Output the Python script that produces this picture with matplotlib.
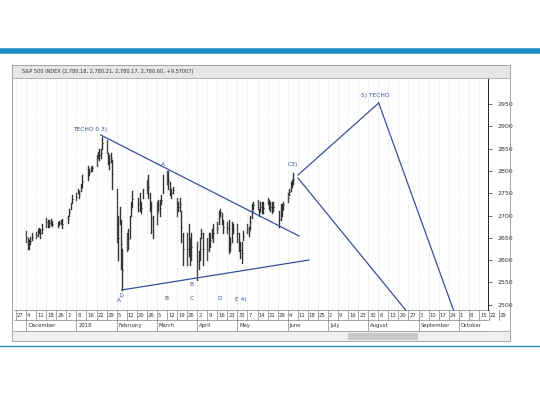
import matplotlib
matplotlib.use("Agg")
import matplotlib.pyplot as plt
import matplotlib.transforms as mtransforms
import pandas as pd

lows = [2640,2625,2625,2635,2645, 2650,2655,2660,2650,2660, 2675,2675,2675,2678,2676, 2675,2678,2680,2672,
        2683,2700,2715,2728, 2735,2750,2740,2755,2765, 2780,2790,2800,2800, 2810,2830,2825,2830,2850,
        2840,2815,2805,2820,2760, 2640,2600,2680,2580,2532, 2620,2625,2650,2700,2720, 2710,2710,2705,2740,
        2750,2740,2710,2660,2650, 2680,2710,2700,2725,2750, 2770,2760,2745,2740,2750, 2700,2710,2710,2640,2590,
        2590,2610,2590,2600, 2555,2580,2600,2650,2590, 2600,2620,2630,2650,2640, 2660,2680,2700,2680,2660,
        2660,2615,2620,2640,2660, 2640,2620,2605,2594,2645, 2660,2655,2670,2695,2715, 2715,2700,2710,2705,2705,
        2725,2715,2710,2705,2710, 2675,2690,2700,2715, 2730,2745,2755,2765,2770]
highs = [2665,2650,2645,2652,2660, 2662,2670,2672,2670,2680, 2695,2690,2690,2692,2688, 2685,2688,2690,2692,
         2700,2715,2728,2745, 2750,2760,2755,2770,2790, 2810,2805,2808,2812, 2835,2842,2848,2850,2875,
         2870,2840,2835,2840,2825, 2760,2700,2720,2690,2625, 2660,2670,2700,2730,2755, 2740,2750,2730,2760,
         2780,2790,2750,2730,2700, 2730,2735,2735,2745,2790, 2800,2800,2775,2760,2765, 2740,2730,2740,2710,2660,
         2660,2680,2650,2660, 2640,2620,2650,2670,2660, 2650,2660,2660,2670,2680, 2685,2710,2715,2705,2690,
         2685,2690,2650,2685,2680, 2680,2660,2640,2640,2665, 2680,2675,2700,2725,2730, 2735,2715,2730,2730,2730,
         2740,2735,2730,2730,2730, 2710,2725,2725,2730, 2750,2760,2775,2780,2795]
holidays = ["2017-12-25", "2018-01-01", "2018-01-15", "2018-02-19", "2018-03-30", "2018-05-28"]
week_labels = ["27","4","11","18","26","2","8","16","22","29","5","12","20","26","5","12","19","26","2","9","16","23","30",
               "7","14","21","29","4","11","18","25","2","9","16","23","30","6","13","20","27","3","10","17","24","1","8","15","22","29"]
months = ["December","2018","February","March","April","May","June","July","August","September","October"]
month_weeks = [1, 6, 10, 14, 18, 22, 27, 31, 35, 40, 44]

origin = pd.Timestamp("2017-11-27")
days = [d for d in pd.bdate_range("2017-12-04", "2018-06-08") if d.strftime("%Y-%m-%d") not in holidays]
xs = [(d - origin).days / 7 for d in days]

def pw(px): return (px - 14) / 10.1
def pp(py): return 2950 - (py - 104) / 22.3 * 50

fig = plt.figure(figsize=(5.4, 4.05), dpi=100)
fig.add_artist(plt.Line2D([0, 1], [1-51/405]*2, color="#1f8fc8", lw=4))
fig.add_artist(plt.Line2D([0, 1], [1-346/405]*2, color="#1f8fc8", lw=1))
fig.add_artist(plt.Rectangle((12/540, 1-341/405), 498/540, 276/405, fill=False, ec="#999999", lw=0.6))
fig.add_artist(plt.Rectangle((12/540, 1-78/405), 498/540, 13/405, fc="#e6e6e6", ec="#999999", lw=0.5))
fig.text(22/540, 1-72/405, "S&P 500 INDEX (2,780.18, 2,780.21, 2,780.17, 2,780.60, +9.57007)", fontsize=3.6, va="center", color="#333")
fig.add_artist(plt.Rectangle((12/540, 1-341/405), 498/540, 10/405, fc="#f0f0f0", ec="#999999", lw=0.5))
fig.add_artist(plt.Rectangle((348/540, 1-340/405), 70/540, 7/405, fc="#c8c8c8", ec="none"))

ax = fig.add_axes([14/540, 1-310/405, 474/540, 232/405])
ax.set_xlim(-0.2, 46.9)
ax.set_ylim(pp(310), pp(78))
for x, lo, hi in zip(xs, lows, highs):
    ax.plot([x, x], [lo, hi], color="#333333", lw=1.0)
    ax.plot([x, x + 0.08], [(lo+hi)/2]*2, color="#333333", lw=0.5)

for i in range(len(week_labels)):
    ax.axvline(i, color="#bbbbbb", lw=0.4, ls=(0, (1, 2)))
ax.set_xticks([])
ax.yaxis.tick_right()
ax.set_yticks([2500, 2550, 2600, 2650, 2700, 2750, 2800, 2850, 2900, 2950])
ax.tick_params(axis="y", labelsize=4.5, length=3, width=0.5, colors="#333")
for s in ["top", "left", "bottom"]:
    ax.spines[s].set_visible(False)
ax.spines["right"].set_linewidth(0.6)

lc = "#3a4f9a"
segs = [((99,135),(298,236)), ((120,290),(308,260)), ((297,175),(378,103)), ((378,103),(453,310)), ((297,178),(405,310))]
for (x1,y1),(x2,y2) in segs:
    ax.plot([pw(x1), pw(x2)], [pp(y1), pp(y2)], color=lc, lw=0.9, clip_on=False)
labels = [("TECHO 0 3)",88,130),("A",161,165),("C3)",292,165),("5) TECHO",375,95),("1)",120,296),("A",117,300),
          ("B",165,299),("B",190,285),("C",190,299),("D",218,298),("E 4)",240,300)]
for t, px, py in labels:
    ax.text(pw(px), pp(py), t, fontsize=4.2, color=lc, ha="center", va="center")

trans = mtransforms.blended_transform_factory(ax.transData, ax.transAxes)
for i, lab in enumerate(week_labels):
    ax.text(i + 0.1, -0.022, lab, fontsize=3.8, transform=trans, va="center", ha="left", color="#333")
    ax.plot([i, i], [0, -0.045], transform=trans, color="#666", lw=0.4, clip_on=False)
for w, m in zip(month_weeks, months):
    ax.text(w + 0.2, -0.068, m, fontsize=3.8, transform=trans, va="center", ha="left", color="#333")
    ax.plot([w, w], [-0.045, -0.09], transform=trans, color="#666", lw=0.4, clip_on=False)
for yy in [0, -0.045, -0.09]:
    ax.plot([-0.2, 46.9], [yy, yy], transform=trans, color="#666", lw=0.4, clip_on=False)

fig.savefig("out.png", dpi=100)
